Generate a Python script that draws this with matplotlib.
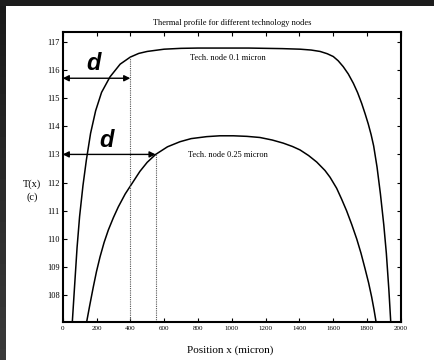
import numpy as np
import matplotlib
matplotlib.use('Agg')
import matplotlib.pyplot as plt

# values
x_01 = [57, 70, 85, 100, 120, 140, 165, 195, 230, 280, 340, 400, 450, 500, 600, 700,
        800, 900, 1000, 1100, 1200, 1300, 1405, 1470, 1523, 1565, 1601, 1630, 1660,
        1690, 1720, 1745, 1769, 1790, 1808, 1825, 1840, 1860, 1880, 1900, 1915, 1930,
        1941]
t_01 = [107.07, 108.3, 109.7, 110.8, 111.9, 112.8, 113.75, 114.55, 115.2, 115.75,
        116.2, 116.45, 116.58, 116.65, 116.73, 116.76, 116.77, 116.77, 116.77, 116.77,
        116.76, 116.75, 116.73, 116.7, 116.65, 116.57, 116.47, 116.32, 116.11, 115.85,
        115.52, 115.19, 114.81, 114.43, 114.08, 113.7, 113.3, 112.55, 111.6, 110.5,
        109.5, 108.2, 107.07]

x_025 = [142, 160, 181, 200, 221, 245, 270, 300, 329, 370, 408, 457, 500, 550, 620,
         694, 760, 852, 930, 1010, 1090, 1167, 1240, 1305, 1360, 1404, 1455, 1503,
         1552, 1582, 1621, 1650, 1680, 1710, 1740, 1765, 1789, 1810, 1828, 1842, 1854]
t_025 = [107.07, 107.65, 108.3, 108.85, 109.37, 109.88, 110.32, 110.76, 111.14, 111.6,
         111.95, 112.4, 112.72, 113.0, 113.27, 113.45, 113.56, 113.63, 113.66, 113.66,
         113.64, 113.6, 113.51, 113.4, 113.28, 113.16, 112.96, 112.73, 112.43, 112.19,
         111.8, 111.42, 111.0, 110.52, 110.0, 109.5, 108.95, 108.45, 107.95, 107.5,
         107.07]

d_x = [400, 550]
d_t = [115.7, 113.0]
d_top = [116.45, 113.0]
node_labels = ['Tech. node 0.1 micron', 'Tech. node 0.25 micron']
label_pos = [(980, 116.42), (980, 112.98)]
d_label_pos = [(181, 116.23), (260, 113.48)]

xticks = list(range(0, 2001, 200))
yticks = list(range(108, 118))

W, H = 435, 360
fig = plt.figure(figsize=(W / 100, H / 100), dpi=100)
fig.patch.set_facecolor('#1c1c1c')

# white page with a dark frame on the top and left
bg = fig.add_axes([6 / W, 0, 1 - 6 / W, 1 - 6 / H])
bg.set_facecolor('white')
bg.set_xticks([])
bg.set_yticks([])
for s in bg.spines.values():
    s.set_visible(False)

gax = fig.add_axes([0, 0, 6 / W, 1 - 6 / H])
grad = np.linspace(0.10, 0.23, 100).reshape(-1, 1)
gax.imshow(grad, aspect='auto', cmap='gray', vmin=0, vmax=1, origin='upper')
gax.axis('off')

ax = fig.add_axes([62.7 / W, 1 - 321.7 / H, (400.7 - 62.7) / W, (321.7 - 31.7) / H])
ax.plot(x_01, t_01, color='black', lw=1.1)
ax.plot(x_025, t_025, color='black', lw=1.1)

for xv, tv, top in zip(d_x, d_t, d_top):
    ax.plot([xv, xv], [107.07, top], color='#555555', lw=0.8, ls=(0, (1, 1)))
    ax.annotate('', xy=(xv, tv), xytext=(0, tv),
                arrowprops=dict(arrowstyle='<|-|>', color='black', lw=1.0,
                                mutation_scale=9, shrinkA=0, shrinkB=0))

for (lx, ly) in d_label_pos:
    ax.text(lx, ly, 'd', fontsize=17, fontweight='bold', fontstyle='italic',
            family='Liberation Sans', ha='center', va='center')

for txt, (lx, ly) in zip(node_labels, label_pos):
    ax.text(lx, ly, txt, fontsize=6, family='Liberation Serif', ha='center', va='center')

ax.set_xlim(0, 2000)
ax.set_ylim(107.07, 117.35)
ax.set_xticks(xticks)
ax.set_yticks(yticks)
ax.tick_params(direction='in', top=True, right=True, length=3, width=0.8, pad=2)
ax.tick_params(axis='x', labelsize=5, pad=3)
ax.tick_params(axis='y', labelsize=6)
for lab in ax.get_xticklabels() + ax.get_yticklabels():
    lab.set_family('Liberation Serif')
for s in ax.spines.values():
    s.set_linewidth(1.5)

ax.set_title('Thermal profile for different technology nodes', fontsize=6,
             family='Liberation Serif', pad=5)
fig.text(230 / W, 1 - 350 / H, 'Position x (micron)', fontsize=8,
         family='Liberation Serif', ha='center', va='center')
fig.text(32 / W, 1 - 184 / H, 'T(x)', fontsize=7.5, family='Liberation Serif',
         ha='center', va='center')
fig.text(32 / W, 1 - 197 / H, '(c)', fontsize=7.5, family='Liberation Serif',
         ha='center', va='center')

fig.savefig('out.png', dpi=100, facecolor=fig.get_facecolor())
